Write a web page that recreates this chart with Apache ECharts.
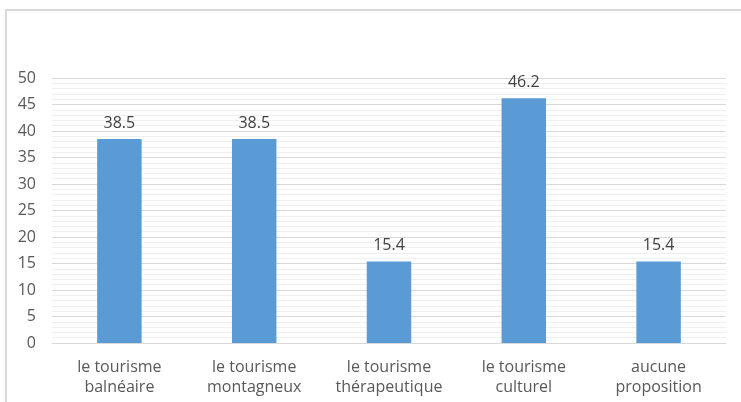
<!DOCTYPE html>
<html><head><meta charset="utf-8">
<script src="https://cdn.jsdelivr.net/npm/echarts@6/dist/echarts.min.js"></script>
<style>html,body{margin:0;padding:0;background:#fff}#c{width:741px;height:402px}</style>
</head><body><div id="c"></div>
<script>
const categories = ["le tourisme\nbalnéaire", "le tourisme\nmontagneux", "le tourisme\nthérapeutique", "le tourisme\nculturel", "aucune\nproposition"];
const values = [38.5, 38.5, 15.4, 46.2, 15.4];
const chart = echarts.init(document.getElementById('c'), null, {renderer: 'canvas'});
chart.setOption({
  animation: false,
  backgroundColor: '#fff',
  textStyle: {fontFamily: 'Open Sans'},
  graphic: [
    {type: 'polyline', shape: {points: [[6, 402], [6, 10], [741, 10]]}, style: {stroke: '#d9d9d9', lineWidth: 2, fill: null}}
  ],
  grid: {left: 52, right: 15, top: 78, bottom: 59},
  xAxis: {
    type: 'category', data: categories,
    axisLine: {show: true, lineStyle: {color: '#d9d9d9'}},
    axisTick: {show: false},
    axisLabel: {interval: 0, color: '#595959', fontSize: 16, lineHeight: 20, margin: 14, fontFamily: 'Open Sans'}
  },
  yAxis: {
    type: 'value', min: 0, max: 50, interval: 5,
    axisLine: {show: false}, axisTick: {show: false},
    axisLabel: {color: '#595959', fontSize: 16, margin: 16, fontFamily: 'Open Sans'},
    splitLine: {lineStyle: {color: '#d9d9d9', width: 1}},
    minorTick: {show: false, splitNumber: 5},
    minorSplitLine: {show: true, lineStyle: {color: '#efefef', width: 1}}
  },
  series: [{
    type: 'bar', data: values, barWidth: '33%',
    itemStyle: {color: '#5b9bd5'},
    label: {show: true, position: 'top', distance: 8, color: '#404040', fontSize: 16, fontFamily: 'Open Sans', formatter: p => p.value.toFixed(1)}
  }]
});
</script></body></html>
